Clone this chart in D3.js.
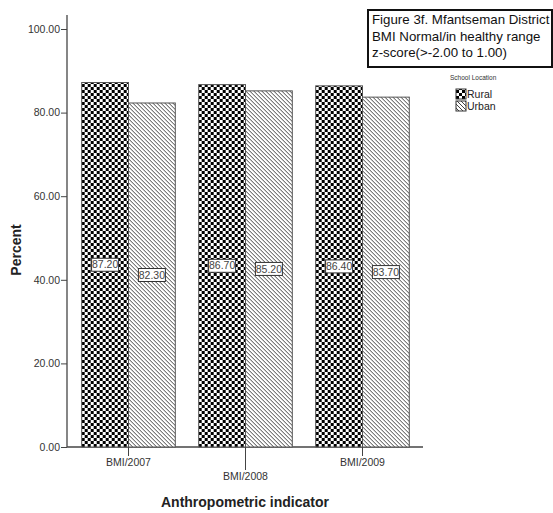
<!DOCTYPE html>
<html><head><meta charset="utf-8">
<script src="https://cdn.jsdelivr.net/npm/d3@7"></script>
<style>body{margin:0;background:#fff}svg{display:block}text{font-family:"Liberation Sans",Arial,sans-serif}</style>
</head><body>
<script>
const categories = ["BMI/2007","BMI/2008","BMI/2009"];
const seriesNames = ["Rural","Urban"];
const rural = [87.20, 86.70, 86.40];
const urban = [82.30, 85.20, 83.70];
const yTicks = [0,20,40,60,80,100];

const W=553,H=513;
const svg=d3.select("body").append("svg").attr("width",W).attr("height",H);
const defs=svg.append("defs");
const chk=defs.append("pattern").attr("id","chk").attr("patternUnits","userSpaceOnUse").attr("width",6).attr("height",6);
chk.append("rect").attr("width",6).attr("height",6).attr("fill","#fff");
chk.append("rect").attr("width",3).attr("height",3).attr("fill","#000");
chk.append("rect").attr("x",3).attr("y",3).attr("width",3).attr("height",3).attr("fill","#000");
const hat=defs.append("pattern").attr("id","hat").attr("patternUnits","userSpaceOnUse").attr("width",4).attr("height",4);
hat.append("rect").attr("width",4).attr("height",4).attr("fill","#fff");
hat.append("path").attr("d","M-1,-1 L5,5 M-1,3 L1,5 M3,-1 L5,1").attr("stroke","#444").attr("stroke-width",1);

const x0=67, yTop=15;
const y=d3.scaleLinear().domain([0,100]).range([447,29]);
const x=d3.scaleBand().domain(categories).range([x0+3,x0+354]).paddingInner(0.2).paddingOuter(0.1);
const xs=d3.scaleBand().domain(seriesNames).range([0,x.bandwidth()]);

// y axis
const ya=svg.append("g").attr("transform",`translate(${x0},0)`)
  .call(d3.axisLeft(y).tickValues(yTicks).tickFormat(d3.format(".2f")).tickSize(6).tickSizeOuter(0));
ya.select(".domain").remove();
ya.selectAll("line").attr("stroke","#444");
ya.selectAll("text").attr("font-size",10.5).attr("fill","#333").attr("x",-7);
svg.append("line").attr("x1",x0).attr("x2",x0).attr("y1",yTop).attr("y2",y(0)).attr("stroke","#444").attr("stroke-width",1.3);
// x axis line
svg.append("line").attr("x1",x0).attr("x2",423).attr("y1",y(0)).attr("y2",y(0)).attr("stroke","#444").attr("stroke-width",1.3);

const data=categories.map((c,i)=>({c,vals:[{s:"Rural",v:rural[i]},{s:"Urban",v:urban[i]}]}));
const g=svg.selectAll(".grp").data(data).join("g").attr("transform",d=>`translate(${x(d.c)},0)`);
g.selectAll("rect").data(d=>d.vals).join("rect")
  .attr("x",d=>xs(d.s)).attr("width",xs.bandwidth())
  .attr("y",d=>y(d.v)).attr("height",d=>y(0)-y(d.v))
  .attr("fill",d=>d.s==="Rural"?"url(#chk)":"url(#hat)")
  .attr("stroke","#555").attr("stroke-width",1);
// value labels
g.selectAll(".lab").data(d=>d.vals).join("g").attr("class","lab")
  .attr("transform",d=>`translate(${xs(d.s)+xs.bandwidth()/2},${(y(d.v)+y(0))/2})`)
  .each(function(d){
    const gg=d3.select(this);
    gg.append("rect").attr("x",-13.5).attr("y",-6.5).attr("width",27).attr("height",13).attr("fill","#fff").attr("stroke","#333").attr("stroke-width",1);
    gg.append("text").attr("text-anchor","middle").attr("dy","0.35em").attr("font-size",10.5).attr("fill","#444").text(d.v.toFixed(2));
  });
// x ticks and labels
categories.forEach((c,i)=>{
  const cx=x(c)+x.bandwidth()/2;
  const len=i===1?23:9;
  svg.append("line").attr("x1",cx).attr("x2",cx).attr("y1",y(0)).attr("y2",y(0)+len).attr("stroke","#444");
  svg.append("text").attr("x",cx).attr("y",y(0)+len+10).attr("text-anchor","middle").attr("font-size",10.5).attr("fill","#333").text(c);
});
// axis titles
svg.append("text").attr("x",245).attr("y",507).attr("text-anchor","middle").attr("font-size",14).attr("font-weight","bold").attr("fill","#222").text("Anthropometric indicator");
svg.append("text").attr("transform","translate(21,250) rotate(-90)").attr("text-anchor","middle").attr("font-size",14).attr("font-weight","bold").attr("fill","#222").text("Percent");

// title box
svg.append("rect").attr("x",368).attr("y",10).attr("width",184).attr("height",57).attr("fill","#fff").attr("stroke","#111").attr("stroke-width",2);
["Figure 3f. Mfantseman District","BMI Normal/in healthy range","z-score(>-2.00 to 1.00)"].forEach((t,i)=>{
  svg.append("text").attr("x",372).attr("y",24+i*16.5).attr("font-size",13.3).attr("fill","#111").text(t);
});
// legend
svg.append("text").attr("x",450).attr("y",80).attr("font-size",6.5).attr("fill","#333").text("School Location");
seriesNames.forEach((s,i)=>{
  const ly=89+i*12;
  svg.append("rect").attr("x",456).attr("y",ly).attr("width",10).attr("height",10).attr("fill",i===0?"url(#chk)":"url(#hat)").attr("stroke","#333");
  svg.append("text").attr("x",467).attr("y",ly+9).attr("font-size",10.5).attr("fill","#222").text(s);
});
</script>
</body></html>
